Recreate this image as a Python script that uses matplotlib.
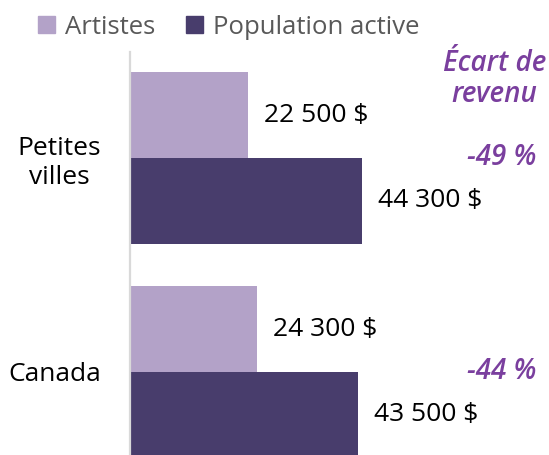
import matplotlib.pyplot as plt
from matplotlib.patches import Patch
import numpy as np

plt.rcParams['font.family'] = ['Open Sans', 'DejaVu Sans']

# data
categories = ['Petites\nvilles', 'Canada']
artistes = [22500, 24300]
population = [44300, 43500]
ecarts = ['-49 %', '-44 %']
series = ['Artistes', 'Population active']

c_light = '#b3a2c8'
c_dark = '#483d6c'
c_purple = '#7a3f9e'

fig = plt.figure(figsize=(5.49, 4.55), dpi=100)
ax = fig.add_axes([130 / 549, 0, 419 / 549, 1 - 52 / 455])

y = np.arange(len(categories))
h = 0.40
ax.barh(y - h / 2, artistes, height=h, color=c_light)
ax.barh(y + h / 2, population, height=h, color=c_dark)

ax.set_xlim(0, 80000)
ax.set_ylim(1.388, -0.495)

def fmt(v):
    return f'{v:,}'.replace(',', ' ') + ' $'

for i in range(len(categories)):
    ax.text(artistes[i] + 3000, y[i] - h / 2, fmt(artistes[i]), va='center',
            ha='left', fontsize=19, color='black')
    ax.text(population[i] + 3000, y[i] + h / 2, fmt(population[i]), va='center',
            ha='left', fontsize=19, color='black')
    # ecart label, right side
    ax.text(0.971, y[i], ecarts[i], transform=ax.get_yaxis_transform(),
            va='center', ha='right', fontsize=20, color=c_purple, style='italic',
            fontweight='semibold')

fig.text(546 / 549, 1 - 79 / 455, 'Écart de\nrevenu', ha='right', va='center',
         multialignment='center', fontsize=20, color=c_purple, style='italic',
         fontweight='semibold', linespacing=1.1)

ax.set_yticks(y)
ax.set_yticklabels(categories, fontsize=19, multialignment='center')
ax.tick_params(axis='y', length=0, pad=21)
ax.set_xticks([])
for s in ['top', 'right', 'bottom']:
    ax.spines[s].set_visible(False)
ax.spines['left'].set_color('#d9d9d9')
ax.spines['left'].set_linewidth(1.6)

handles = [Patch(color=c_light, label=series[0]), Patch(color=c_dark, label=series[1])]
leg = fig.legend(handles=handles, loc='center left', bbox_to_anchor=(38 / 549, 1 - 27 / 455),
                 ncol=2, frameon=False, fontsize=18.5, handlelength=0.65, handleheight=0.65,
                 handletextpad=0.4, columnspacing=1.2, borderaxespad=0, borderpad=0)
for t in leg.get_texts():
    t.set_color('#595959')

fig.savefig('out.png', dpi=100)
